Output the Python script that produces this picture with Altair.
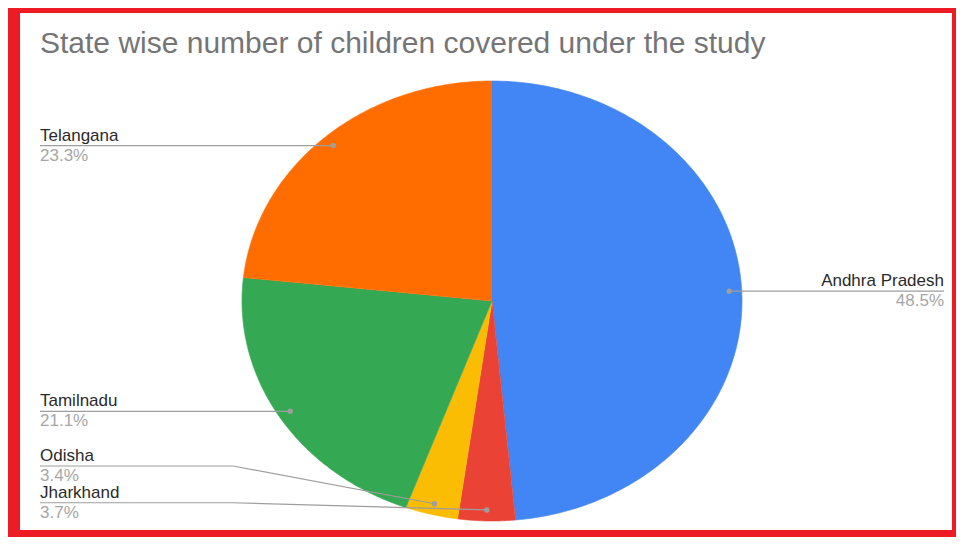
import altair as alt
import pandas as pd

# ---- data ----
states = ["Andhra Pradesh", "Jharkhand", "Odisha", "Tamilnadu", "Telangana"]
shares = [48.5, 3.7, 3.4, 21.1, 23.3]          # percent of children
colors = ["#4285f4", "#ea4335", "#fbbc04", "#34a853", "#ff6d01"]
title_text = "State wise number of children covered under the study"

# ---- label layout (annotation placement, in pie-radius units) ----
label_side = ["right", "left", "left", "left", "left"]
label_x = [1.808, -1.808, -1.808, -1.808, -1.808]
label_line_y = [None, -0.917, -0.75, None, None]   # None -> level of the slice dot
elbow_x = [None, -1.036, -1.036, None, None]

df = pd.DataFrame({
    "state": states,
    "value": shares,
    "idx": list(range(len(states))),
    "side": label_side,
    "lab_x": label_x,
    "lab_y": label_line_y,
    "elb_x": elbow_x,
})

xs = alt.Scale(domain=[-1.888, 1.84], nice=False, zero=False)
ys = alt.Scale(domain=[-1.0409, 1.3091], nice=False, zero=False)
FONT = "Liberation Sans"

base = (
    alt.Chart(df)
    .transform_joinaggregate(total="sum(value)")
    .transform_window(cum="sum(value)", sort=[alt.SortField("idx")], frame=[None, 0])
    .transform_calculate(
        a1="2*PI*(datum.cum - datum.value)/datum.total",
        a2="2*PI*datum.cum/datum.total",
    )
    .transform_calculate(am="(datum.a1 + datum.a2)/2")
    .transform_calculate(
        dot_x="0.95*sin(datum.am)",
        dot_y="0.95*cos(datum.am)",
        pct="format(datum.value, '.1f') + '%'",
    )
    .transform_calculate(
        line_y="isValid(datum.lab_y) ? datum.lab_y : datum.dot_y",
    )
)

N = 160
pie = (
    base.transform_calculate(pts=f"sequence(0, {N + 1})")
    .transform_flatten(["pts"])
    .transform_calculate(
        ang=f"datum.a1 + (datum.a2 - datum.a1)*(max(datum.pts, 1) - 1)/{N - 1}"
    )
    .transform_calculate(
        px="datum.pts == 0 ? 0 : sin(datum.ang)",
        py="datum.pts == 0 ? 0 : cos(datum.ang)",
    )
    .mark_line(filled=True, strokeWidth=0.6)
    .encode(
        x=alt.X("px:Q", scale=xs, axis=None),
        y=alt.Y("py:Q", scale=ys, axis=None),
        color=alt.Color("state:N", scale=alt.Scale(domain=states, range=colors), legend=None),
        fill=alt.Fill("state:N", scale=alt.Scale(domain=states, range=colors), legend=None),
        stroke=alt.Stroke("state:N", scale=alt.Scale(domain=states, range=colors), legend=None),
        detail="state:N",
        order=alt.Order("pts:Q"),
    )
)

leaders = (
    base.transform_calculate(k="sequence(0, 3)")
    .transform_flatten(["k"])
    .transform_calculate(
        lx="datum.k == 0 ? datum.dot_x : (datum.k == 1 ? (isValid(datum.elb_x) ? datum.elb_x : datum.dot_x) : datum.lab_x)",
        ly="datum.k == 0 ? datum.dot_y : datum.line_y",
    )
    .mark_line(color="#9e9e9e", strokeWidth=1.2)
    .encode(
        x=alt.X("lx:Q", scale=xs, axis=None),
        y=alt.Y("ly:Q", scale=ys, axis=None),
        detail="state:N",
        order=alt.Order("k:Q"),
    )
)

dots = base.mark_circle(color="#9e9e9e", size=30, opacity=1).encode(
    x=alt.X("dot_x:Q", scale=xs, axis=None),
    y=alt.Y("dot_y:Q", scale=ys, axis=None),
)

def labels(side, align):
    b = base.transform_filter(alt.datum.side == side)
    name = b.mark_text(align=align, baseline="alphabetic", dy=-5, font=FONT,
                       fontSize=17, color="#2a2a2a").encode(
        x=alt.X("lab_x:Q", scale=xs, axis=None),
        y=alt.Y("line_y:Q", scale=ys, axis=None),
        text="state:N",
    )
    pct = b.mark_text(align=align, baseline="alphabetic", dy=15, font=FONT,
                      fontSize=17, color="#a6a6a6").encode(
        x=alt.X("lab_x:Q", scale=xs, axis=None),
        y=alt.Y("line_y:Q", scale=ys, axis=None),
        text="pct:N",
    )
    return name + pct

title = alt.Chart(pd.DataFrame({"t": [title_text]})).mark_text(
    align="left", baseline="alphabetic", font=FONT, fontSize=30, color="#757575"
).encode(x=alt.value(20), y=alt.value(40), text="t:N")

chart = (
    alt.layer(pie, leaders, dots, labels("left", "left"), labels("right", "right"), title)
    .properties(
        width=948,
        height=529,
        autosize=alt.AutoSizeParams(type="fit", contains="padding"),
        padding={"left": 12, "top": 5, "right": 4, "bottom": 7},
        background="#ed1c24",
    )
    .configure_view(fill="white", stroke=None)
)

chart.save("out.html", embed_options={"renderer": "svg", "actions": False})
